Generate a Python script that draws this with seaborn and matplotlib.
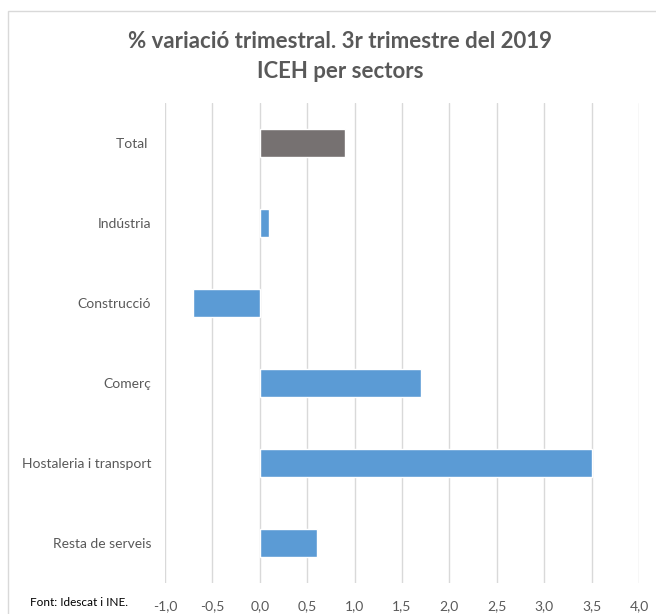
import numpy as np
import pandas as pd
import seaborn as sns
import matplotlib.pyplot as plt
from matplotlib.patches import Rectangle

# data
sectors = ['Total ', 'Indústria', 'Construcció', 'Comerç', 'Hostaleria i transport', 'Resta de serveis']
variacio = [0.9, 0.1, -0.7, 1.7, 3.5, 0.6]
colors = ['#767171', '#5B9BD5', '#5B9BD5', '#5B9BD5', '#5B9BD5', '#5B9BD5']
xticks = [-1.0, -0.5, 0.0, 0.5, 1.0, 1.5, 2.0, 2.5, 3.0, 3.5, 4.0]

df = pd.DataFrame({'sector': sectors, 'valor': variacio})

sns.set_style('white')
plt.rcParams['font.family'] = ['Lato', 'DejaVu Sans']

fig = plt.figure(figsize=(6.56, 6.14), dpi=100)
ax = fig.add_axes([165 / 656, 1 - 583 / 614, 474 / 656, 480 / 614])

# outer chart border (light gray)
fig.patches.append(Rectangle((8 / 656, -0.1), 1.2, 1 - 11 / 614 + 0.1, transform=fig.transFigure,
                             fill=False, edgecolor='#d9d9d9', lw=1))

sns.barplot(data=df, x='valor', y='sector', hue='sector', palette=colors, legend=False,
            orient='h', width=0.36, ax=ax, saturation=1, zorder=3)

ax.set_xlim(-1.0, 4.0)
ax.set_xticks(xticks)
ax.set_xticklabels([f'{t:.1f}'.replace('.', ',') for t in xticks])
ax.grid(axis='x', color='#d9d9d9', lw=1, zorder=0)
ax.set_axisbelow(True)
for s in ax.spines.values():
    s.set_visible(False)
ax.tick_params(axis='both', length=0, colors='#595959', labelsize=10)
ax.tick_params(axis='y', pad=10)
ax.tick_params(axis='x', pad=12)
ax.set_xlabel('')
ax.set_ylabel('')

fig.text(340 / 656, 1 - 42 / 614, '% variació trimestral. 3r trimestre del 2019',
         ha='center', va='center', fontsize=16, fontweight='bold', color='#595959')
fig.text(340 / 656, 1 - 71 / 614, 'ICEH per sectors',
         ha='center', va='center', fontsize=16, fontweight='bold', color='#595959')
fig.text(30 / 656, 1 - 603 / 614, 'Font: Idescat i INE.', ha='left', va='center',
         fontsize=8.5, color='#000000')

fig.savefig('out.png', dpi=100)
